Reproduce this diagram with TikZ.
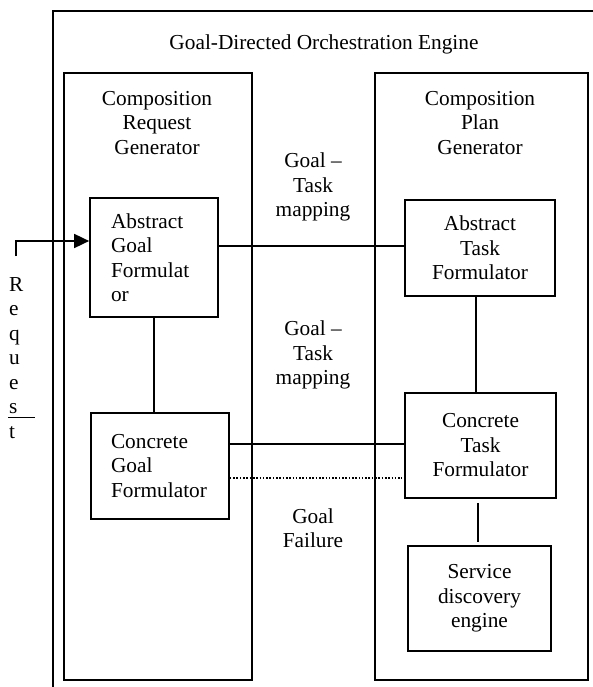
\documentclass[tikz,border=0pt]{standalone}
\usepackage{fontspec}
\setmainfont{Liberation Serif}
\usetikzlibrary{arrows.meta}
\begin{document}
\begin{tikzpicture}[x=1bp,y=-1bp,font=\fontsize{21.4}{24.6}\selectfont]
\tikzset{
  frame/.style={draw,line width=1.7bp,inner sep=0pt,anchor=north west},
  box/.style={draw,line width=1.7bp,inner sep=0pt},
  lbl/.style={align=center,inner sep=0pt},
  con/.style={line width=1.7bp},
  failcon/.style={line width=1.7bp,dash pattern=on 1.6bp off 1.7bp}
}
\useasboundingbox (0,0) rectangle (593,687);
\clip (0,0) rectangle (593,687);
\fill[white] (0,0) rectangle (593,687);
% containers
\node[frame,minimum width=548bp,minimum height=700bp] (engine) at (52,10) {};
\node[frame,minimum width=188bp,minimum height=607bp] (crg) at (63,72) {};
\node[frame,minimum width=213bp,minimum height=607bp] (cpg) at (374,72) {};
% container labels
\node[lbl] (title) at (324,44) {Goal-Directed Orchestration Engine};
\node[lbl] (crglbl) at (157,123) {Composition\\Request\\Generator};
\node[lbl] (cpglbl) at (480,123) {Composition\\Plan\\Generator};
% inner boxes
\node[box,minimum width=128bp,minimum height=119bp,text width=86bp,inner xsep=21bp,align=left] (agf) at (154,257.5) {Abstract\\Goal\\Formulat\\or};
\node[box,minimum width=138bp,minimum height=106bp,text width=98bp,inner xsep=20bp,align=left] (cgf) at (160,466) {Concrete\\Goal\\Formulator};
\node[box,minimum width=150bp,minimum height=96bp,align=center] (atf) at (480,248) {Abstract\\Task\\Formulator};
\node[box,minimum width=151bp,minimum height=105bp,align=center] (ctf) at (480.5,445.5) {Concrete\\Task\\Formulator};
\node[box,minimum width=143bp,minimum height=105bp,align=center] (sde) at (479.5,598.5) {Service\\discovery\\engine};
% connector labels
\node[lbl] (map1) at (313,187) {Goal --\\Task\\mapping};
\node[lbl] (map2) at (313,355) {Goal --\\Task\\mapping};
\node[lbl] (fail) at (313,528) {Goal\\Failure};
% request
\node[anchor=west,inner sep=0pt,align=left] (req) at (9,358) {R\\e\\q\\u\\e\\s\\t};
\draw[line width=1bp] (8,417) -- (35,417);
\coordinate (reqstart) at (16,256);
\coordinate (reqbend) at (16,241);
\draw[con,-{Triangle[length=15bp,width=14bp]}] (reqstart) -- (reqbend) -- (reqbend -| agf.west);
% connectors
\draw[con] ([yshift=11.5bp]agf.east) -- ([yshift=11.5bp]agf.east -| atf.west);
\draw[con] (agf.south) -- (agf.south |- cgf.north);
\draw[con] ([yshift=22bp]cgf.east) -- ([yshift=22bp]cgf.east -| ctf.west);
\draw[failcon,shorten >=2bp] ([yshift=-12bp]cgf.east) -- ([yshift=-12bp]cgf.east -| ctf.west);
\draw[con] ([xshift=-4bp]atf.south) -- ([xshift=-4bp]atf.south |- ctf.north);
\draw[con,shorten <=4bp,shorten >=3bp] ([xshift=-2.5bp]ctf.south) -- ([xshift=-2.5bp]ctf.south |- sde.north);
\end{tikzpicture}
\end{document}
